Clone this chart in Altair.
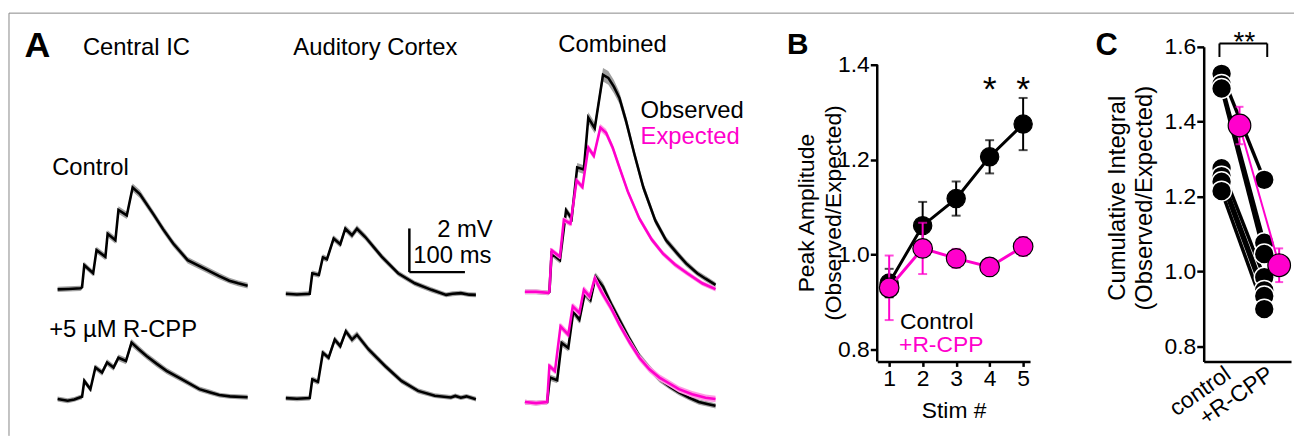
import altair as alt
import pandas as pd

FONT = "Liberation Sans"
MAG = "#ff00cc"

# ================= Panel A: averaged traces (time ms, membrane potential mV, SEM mV) =================
cic_ctrl_t = [0, 20, 41, 44, 48, 64, 70, 86, 90, 104, 109.5, 124.5, 135, 148, 172, 190, 208, 234, 267, 290, 309, 325, 342]
cic_ctrl_v = [0, 0.02, 0.05, 0.1, 1.11, 0.74, 1.80, 1.49, 2.55, 2.25, 3.64, 3.39, 4.67, 4.37, 3.46, 2.75, 2.10, 1.34, 0.92, 0.62, 0.40, 0.28, 0.17]
cic_ctrl_s = [0.12, 0.12, 0.12, 0.12, 0.14, 0.14, 0.15, 0.15, 0.16, 0.16, 0.17, 0.17, 0.18, 0.18, 0.17, 0.17, 0.16, 0.15, 0.14, 0.14, 0.13, 0.13, 0.13]

ac_ctrl_t = [0, 20, 43, 47.6, 59.5, 66.6, 74, 86, 98, 107, 119, 128, 143, 172.5, 202, 232, 262, 288.5, 300, 315, 330, 342]
ac_ctrl_v = [0, -0.03, 0, 0.94, 0.86, 1.67, 1.58, 2.53, 2.27, 2.98, 2.68, 2.98, 2.60, 1.70, 0.94, 0.48, 0.18, -0.05, 0, 0.03, -0.04, -0.05]
ac_ctrl_s = [0.11, 0.11, 0.11, 0.13, 0.13, 0.14, 0.14, 0.15, 0.15, 0.16, 0.16, 0.16, 0.15, 0.14, 0.13, 0.12, 0.12, 0.11, 0.11, 0.11, 0.11, 0.11]

comb_ctrl_obs_t = [0, 20, 42, 44, 48, 63, 74, 84, 94, 106, 114, 125.6, 140.5, 150, 160, 170, 182, 197, 213, 234.5, 254, 274, 290, 310, 325, 343]
comb_ctrl_obs_v = [0, 0, -0.05, 0, 1.76, 1.45, 3.73, 3.35, 5.70, 5.60, 7.97, 7.50, 9.94, 9.80, 9.40, 8.88, 7.82, 6.30, 4.79, 3.27, 2.36, 1.76, 1.30, 0.85, 0.60, 0.32]
comb_ctrl_obs_s = [0.11, 0.11, 0.11, 0.11, 0.15, 0.15, 0.17, 0.17, 0.2, 0.2, 0.25, 0.25, 0.31, 0.31, 0.3, 0.27, 0.25, 0.22, 0.2, 0.17, 0.16, 0.15, 0.14, 0.13, 0.13, 0.12]

comb_ctrl_exp_t = [0, 20, 42, 44, 48, 63, 70, 82, 93, 103.5, 114, 124, 135.7, 146, 158, 170, 185, 206, 228, 248, 270, 292, 319, 343]
comb_ctrl_exp_v = [0, 0, -0.05, 0, 1.90, 1.60, 3.30, 3.12, 5.10, 4.80, 6.60, 6.23, 7.52, 7.29, 6.60, 5.70, 4.60, 3.35, 2.40, 1.76, 1.25, 0.85, 0.39, 0.12]
comb_ctrl_exp_s = [0.1, 0.1, 0.1, 0.1, 0.12, 0.12, 0.13, 0.13, 0.14, 0.14, 0.15, 0.15, 0.17, 0.17, 0.16, 0.15, 0.14, 0.13, 0.13, 0.12, 0.12, 0.11, 0.11, 0.11]

cic_rcpp_t = [0, 18, 30, 41, 44, 48, 59, 68, 80, 89, 100.6, 109.5, 123, 133, 145, 160, 178, 196, 223, 255, 275, 291, 310, 342]
cic_rcpp_v = [0, -0.08, -0.02, 0.08, 0.10, 0.83, 0.45, 1.44, 1.21, 1.67, 1.44, 1.89, 1.74, 2.58, 2.30, 1.97, 1.62, 1.29, 0.91, 0.45, 0.30, 0.18, 0.12, 0.08]
cic_rcpp_s = [0.11, 0.11, 0.11, 0.11, 0.11, 0.13, 0.13, 0.14, 0.14, 0.15, 0.15, 0.15, 0.15, 0.17, 0.16, 0.15, 0.15, 0.14, 0.13, 0.12, 0.12, 0.11, 0.11, 0.11]

ac_rcpp_t = [0, 20, 43, 47.6, 58, 66.6, 77, 88, 98, 108, 119, 128, 149, 178.6, 208, 238, 268, 297, 305, 315, 325, 342]
ac_rcpp_v = [0, -0.03, 0, 0.86, 0.74, 2.08, 1.85, 2.68, 2.38, 3.06, 2.68, 2.90, 2.23, 1.47, 0.79, 0.33, 0.11, 0.03, 0.10, 0.02, 0.08, -0.05]
ac_rcpp_s = [0.11, 0.11, 0.11, 0.13, 0.13, 0.14, 0.14, 0.15, 0.15, 0.16, 0.16, 0.16, 0.15, 0.14, 0.13, 0.12, 0.11, 0.11, 0.11, 0.11, 0.11, 0.11]

comb_rcpp_obs_t = [0, 20, 40, 45, 58, 66, 78, 87, 98, 107.7, 118, 127, 140.5, 155, 170, 188, 206, 224, 242, 260, 277, 295, 313, 330, 343]
comb_rcpp_obs_v = [0, -0.05, 0, 1.12, 1.00, 2.71, 2.48, 4.15, 3.77, 4.98, 4.68, 5.74, 5.29, 4.50, 3.77, 2.90, 2.10, 1.55, 1.05, 0.72, 0.44, 0.20, 0, -0.10, -0.17]
comb_rcpp_obs_s = [0.11, 0.11, 0.11, 0.14, 0.14, 0.16, 0.16, 0.18, 0.18, 0.19, 0.19, 0.2, 0.2, 0.19, 0.18, 0.17, 0.16, 0.15, 0.14, 0.13, 0.13, 0.12, 0.12, 0.12, 0.12]

comb_rcpp_exp_t = [0, 20, 40, 44, 54, 64, 78, 86, 98, 106, 116.6, 125.6, 137.5, 155, 170, 188, 206, 224, 242, 260, 277, 301, 325, 343]
comb_rcpp_exp_v = [0, -0.05, 0, 1.65, 1.42, 3.47, 3.09, 4.38, 4.08, 5.14, 4.83, 5.67, 5.06, 4.30, 3.55, 2.75, 2.03, 1.50, 1.12, 0.85, 0.59, 0.36, 0.20, 0.14]
comb_rcpp_exp_s = [0.11, 0.11, 0.11, 0.14, 0.14, 0.16, 0.16, 0.17, 0.17, 0.18, 0.18, 0.19, 0.19, 0.18, 0.17, 0.17, 0.16, 0.16, 0.15, 0.15, 0.15, 0.15, 0.15, 0.15]

scale_bar_ms = 100
scale_bar_mv = 2

# ================= Panel B: peak amplitude ratio =================
stim = [1, 2, 3, 4, 5]
ctrl_amp = [0.940, 1.061, 1.118, 1.206, 1.275]
ctrl_err = [0.030, 0.050, 0.036, 0.035, 0.055]
rcpp_amp = [0.930, 1.013, 0.992, 0.974, 1.017]
rcpp_err = [0.068, 0.054, 0.020, 0.015, 0.020]
sig_stim = [4, 5]

# ================= Panel C: cumulative integral ratio =================
subjects = ["s1", "s2", "s3", "s4", "s5", "s6", "s7"]
c_control = [1.528, 1.500, 1.489, 1.276, 1.255, 1.240, 1.215]
c_rcpp = [1.245, 1.077, 1.047, 0.985, 0.950, 0.935, 0.900]
c_mean_pos = [0.42, 1.35]
c_mean = [1.390, 1.017]
c_sem = [0.050, 0.045]

# ----------------------------------------------------------------------------------------------
# Layout (pixels)
A_W, A_H = 700, 317
B_W, B_H = 154, 317
C_W, C_H = 88, 317
PX_MS, PX_MV = 0.56, 22.0
A_X0 = -87.5
A_YTOP = 11.11
A_XDOM = [A_X0, A_X0 + A_W / PX_MS]
A_YDOM = [A_YTOP - A_H / PX_MV, A_YTOP]
COL_X = [0.0, 410.7, 841.0]

trace_specs = [
    (cic_ctrl_t, cic_ctrl_v, cic_ctrl_s, "cic_ctrl", "obs", COL_X[0], 0.0),
    (ac_ctrl_t, ac_ctrl_v, ac_ctrl_s, "ac_ctrl", "obs", COL_X[1], -0.20),
    (comb_ctrl_obs_t, comb_ctrl_obs_v, comb_ctrl_obs_s, "comb_ctrl_obs", "obs", COL_X[2], -0.11),
    (comb_ctrl_exp_t, comb_ctrl_exp_v, comb_ctrl_exp_s, "comb_ctrl_exp", "exp", COL_X[2], -0.11),
    (cic_rcpp_t, cic_rcpp_v, cic_rcpp_s, "cic_rcpp", "obs", COL_X[0], -5.02),
    (ac_rcpp_t, ac_rcpp_v, ac_rcpp_s, "ac_rcpp", "obs", COL_X[1], -4.98),
    (comb_rcpp_obs_t, comb_rcpp_obs_v, comb_rcpp_obs_s, "comb_rcpp_obs", "obs", COL_X[2], -5.16),
    (comb_rcpp_exp_t, comb_rcpp_exp_v, comb_rcpp_exp_s, "comb_rcpp_exp", "exp", COL_X[2], -5.16),
]
frames = []
for t, v, s, name, kind, xo, yo in trace_specs:
    d = pd.DataFrame({"t": t, "v": v, "sem": s})
    d["trace"] = name
    d["kind"] = kind
    d["x"] = d["t"] + xo
    d["y"] = d["v"] + yo
    d["lo"] = d["y"] - d["sem"]
    d["hi"] = d["y"] + d["sem"]
    frames.append(d)
tr = pd.concat(frames, ignore_index=True)
tr_obs = tr[tr.kind == "obs"]
tr_exp = tr[tr.kind == "exp"]

ONE = pd.DataFrame({"k": [0]})


def ax(f):
    return alt.X(f, type="quantitative", scale=alt.Scale(domain=A_XDOM, nice=False, zero=False), axis=None)


def ay(f):
    return alt.Y(f, type="quantitative", scale=alt.Scale(domain=A_YDOM, nice=False, zero=False), axis=None)


def txt(label, x, y, size=24, color="black", weight="normal", align="left"):
    return alt.Chart(ONE).mark_text(
        text=label, fontSize=size, color=color, fontWeight=weight, align=align,
        baseline="alphabetic", font=FONT
    ).encode(x=alt.value(x), y=alt.value(y))


band_obs = alt.Chart(tr_obs).mark_area(color="#a0a0a0").encode(
    x=ax("x"), y=ay("lo"), y2=alt.Y2("hi"), detail="trace:N")
line_obs = alt.Chart(tr_obs).mark_line(color="black", strokeWidth=2.6).encode(
    x=ax("x"), y=ay("y"), detail="trace:N")
band_exp = alt.Chart(tr_exp).mark_area(color="#ff99e4").encode(
    x=ax("x"), y=ay("lo"), y2=alt.Y2("hi"), detail="trace:N")
line_exp = alt.Chart(tr_exp).mark_line(color=MAG, strokeWidth=2.6).encode(
    x=ax("x"), y=ay("y"), detail="trace:N")

sb = pd.DataFrame({"x0": [633.0], "y0": [0.792]})
sb["x1"] = sb["x0"] + scale_bar_ms
sb["y1"] = sb["y0"] + scale_bar_mv
sb_v = alt.Chart(sb).mark_rule(color="black", strokeWidth=2.5).encode(x=ax("x0"), y=ay("y0"), y2=alt.Y2("y1"))
sb_h = alt.Chart(sb).mark_rule(color="black", strokeWidth=2.5).encode(x=ax("x0"), x2=alt.X2("x1"), y=ay("y0"))

frame_top = alt.Chart(ONE).mark_rule(color="#888888", strokeWidth=1).encode(
    x=alt.value(0), x2=alt.value(1295), y=alt.value(-34))
frame_left = alt.Chart(ONE).mark_rule(color="#888888", strokeWidth=1).encode(
    x=alt.value(0), y=alt.value(-34), y2=alt.value(392))

A = alt.layer(
    frame_top, frame_left,
    band_obs, line_obs, band_exp, line_exp, sb_v, sb_h,
    txt("A", 28.5, 10, size=36, weight="bold", align="center"),
    txt("Central IC", 74.5, 8),
    txt("Auditory Cortex", 286.5, 8),
    txt("Combined", 553.5, 5),
    txt("Control", 43.5, 129),
    txt("+5 µM R-CPP", 40.5, 292),
    txt("Observed", 636.5, 72),
    txt("Expected", 636.5, 98, color=MAG),
    txt("2 mV", 431.5, 192),
    txt("100 ms", 407.5, 218),
).properties(width=A_W, height=A_H)

# ---------------- Panel B ----------------
B_XS = alt.Scale(domain=[0.644, 5.207], nice=False, zero=False)
B_YS = alt.Scale(domain=[0.7749, 1.4376], nice=False, zero=False)
B_XA = alt.Axis(values=[1, 2, 3, 4, 5], tickSize=5, labelPadding=1, labelFlush=False, labelOverlap=False,
                title="Stim #", titleY=56.5, titleBaseline="alphabetic", grid=False)
B_YA = alt.Axis(values=[0.8, 1.0, 1.2, 1.4], format=".1f", domain=False, tickSize=7, labelPadding=1,
                labelOverlap=False, grid=False,
                title=["Peak Amplitude", "(Observed/Expected)"], titleX=-71, titleY=167, titleAngle=270,
                titleAlign="center", titleBaseline="middle", titleLineHeight=27)


def bx(f):
    return alt.X(f, type="quantitative", scale=B_XS, axis=B_XA)


def by(f):
    return alt.Y(f, type="quantitative", scale=B_YS, axis=B_YA)


dB = pd.DataFrame({"stim": stim + stim, "amp": ctrl_amp + rcpp_amp, "err": ctrl_err + rcpp_err,
                   "grp": ["ctrl"] * 5 + ["rcpp"] * 5})
dB["lo"] = dB["amp"] - dB["err"]
dB["hi"] = dB["amp"] + dB["err"]
dBc = dB[dB.grp == "ctrl"]
dBr = dB[dB.grp == "rcpp"]
axisB = pd.DataFrame({"x": [0.644], "y0": [0.7749], "y1": [1.4]})


def b_group(d, col, fill, stroke, size):
    return [
        alt.Chart(d).mark_rule(color=col, strokeWidth=2).encode(x=bx("stim"), y=by("lo"), y2=alt.Y2("hi")),
        alt.Chart(d).mark_tick(color=col, orient="horizontal", size=9, thickness=2).encode(x=bx("stim"), y=by("lo")),
        alt.Chart(d).mark_tick(color=col, orient="horizontal", size=9, thickness=2).encode(x=bx("stim"), y=by("hi")),
        alt.Chart(d).mark_line(color=col, strokeWidth=3).encode(x=bx("stim"), y=by("amp")),
        alt.Chart(d).mark_circle(fill=fill, stroke=stroke, strokeWidth=1.2, size=size, opacity=1).encode(
            x=bx("stim"), y=by("amp")),
    ]


sigB = pd.DataFrame({"stim": sig_stim})
B = alt.layer(
    alt.Chart(axisB).mark_rule(color="black", strokeWidth=2.5).encode(x=bx("x"), y=by("y0"), y2=alt.Y2("y1")),
    *b_group(dBc, "black", "black", "black", 340),
    *b_group(dBr, MAG, MAG, "black", 390),
    alt.Chart(sigB).mark_text(text="*", fontSize=36, align="center", baseline="alphabetic").encode(
        x=bx("stim"), y=alt.value(55)),
    txt("B", -91, 7, size=30, weight="bold"),
    txt("Control", 23, 284, size=23),
    txt("+R-CPP", 22, 308, size=23, color=MAG),
).properties(width=B_W, height=B_H)

# ---------------- Panel C ----------------
C_XS = alt.Scale(domain=[-0.419, 1.628], nice=False, zero=False)
C_YS = alt.Scale(domain=[0.7602, 1.6], nice=False, zero=False)
C_XA = alt.Axis(values=[0, 1], labelExpr="datum.value == 0 ? 'control' : '+R-CPP'", labelAngle=325,
                labelAlign="right", labelBaseline="top", ticks=False, grid=False, title=None,
                labelPadding=1, labelFlush=False, labelOverlap=False)
C_YA = alt.Axis(values=[0.8, 1.0, 1.2, 1.4, 1.6], format=".1f", tickSize=7, labelPadding=1, labelOverlap=False,
                grid=False, title=["Cumulative Integral", "(Observed/Expected)"], titleX=-87, titleY=152,
                titleAngle=270, titleAlign="center", titleBaseline="middle", titleLineHeight=27,
                titleFontSize=24)


def cx(f):
    return alt.X(f, type="quantitative", scale=C_XS, axis=C_XA)


def cy(f):
    return alt.Y(f, type="quantitative", scale=C_YS, axis=C_YA)


dC = pd.DataFrame({"subj": subjects + subjects, "pos": [0] * len(subjects) + [1] * len(subjects),
                   "val": c_control + c_rcpp})
dM = pd.DataFrame({"pos": c_mean_pos, "val": c_mean, "sem": c_sem})
dM["lo"] = dM["val"] - dM["sem"]
dM["hi"] = dM["val"] + dM["sem"]
br = pd.DataFrame({"x0": [-0.05], "x1": [1.07], "y0": [1.573], "y1": [1.609]})

C = alt.layer(
    alt.Chart(dC).mark_line(color="black", strokeWidth=3.5).encode(x=cx("pos"), y=cy("val"), detail="subj:N"),
    alt.Chart(dC).mark_circle(fill="black", stroke="white", strokeWidth=1.5, size=400, opacity=1).encode(
        x=cx("pos"), y=cy("val")),
    alt.Chart(dM).mark_line(color=MAG, strokeWidth=2).encode(x=cx("pos"), y=cy("val")),
    alt.Chart(dM).mark_rule(color=MAG, strokeWidth=2).encode(x=cx("pos"), y=cy("lo"), y2=alt.Y2("hi")),
    alt.Chart(dM).mark_tick(color=MAG, orient="horizontal", size=8, thickness=2).encode(x=cx("pos"), y=cy("lo")),
    alt.Chart(dM).mark_tick(color=MAG, orient="horizontal", size=8, thickness=2).encode(x=cx("pos"), y=cy("hi")),
    alt.Chart(dM).mark_circle(fill=MAG, stroke="black", strokeWidth=1.2, size=520, opacity=1).encode(
        x=cx("pos"), y=cy("val")),
    alt.Chart(br).mark_rule(color="black", strokeWidth=2).encode(x=cx("x0"), x2=alt.X2("x1"), y=cy("y1")),
    alt.Chart(br).mark_rule(color="black", strokeWidth=2).encode(x=cx("x0"), y=cy("y0"), y2=alt.Y2("y1")),
    alt.Chart(br).mark_rule(color="black", strokeWidth=2).encode(x=cx("x1"), y=cy("y0"), y2=alt.Y2("y1")),
    txt("**", 41, 4, size=28, align="center"),
    txt("C", -109, 8, size=31, weight="bold"),
).properties(width=C_W, height=C_H)

chart = alt.hconcat(A, B, C, spacing=175, bounds="flush").properties(
    padding={"left": 0, "top": 2.5, "right": 0, "bottom": 0}
).configure(font=FONT).configure_view(stroke=None).configure_axis(
    labelFont=FONT, titleFont=FONT, labelColor="black", titleColor="black", titleFontWeight="normal",
    domainColor="black", tickColor="black", domainWidth=2.5, tickWidth=2.5,
    labelFontSize=23, titleFontSize=23, grid=False
)

chart.save("out.html", embed_options={"renderer": "svg", "actions": False})
